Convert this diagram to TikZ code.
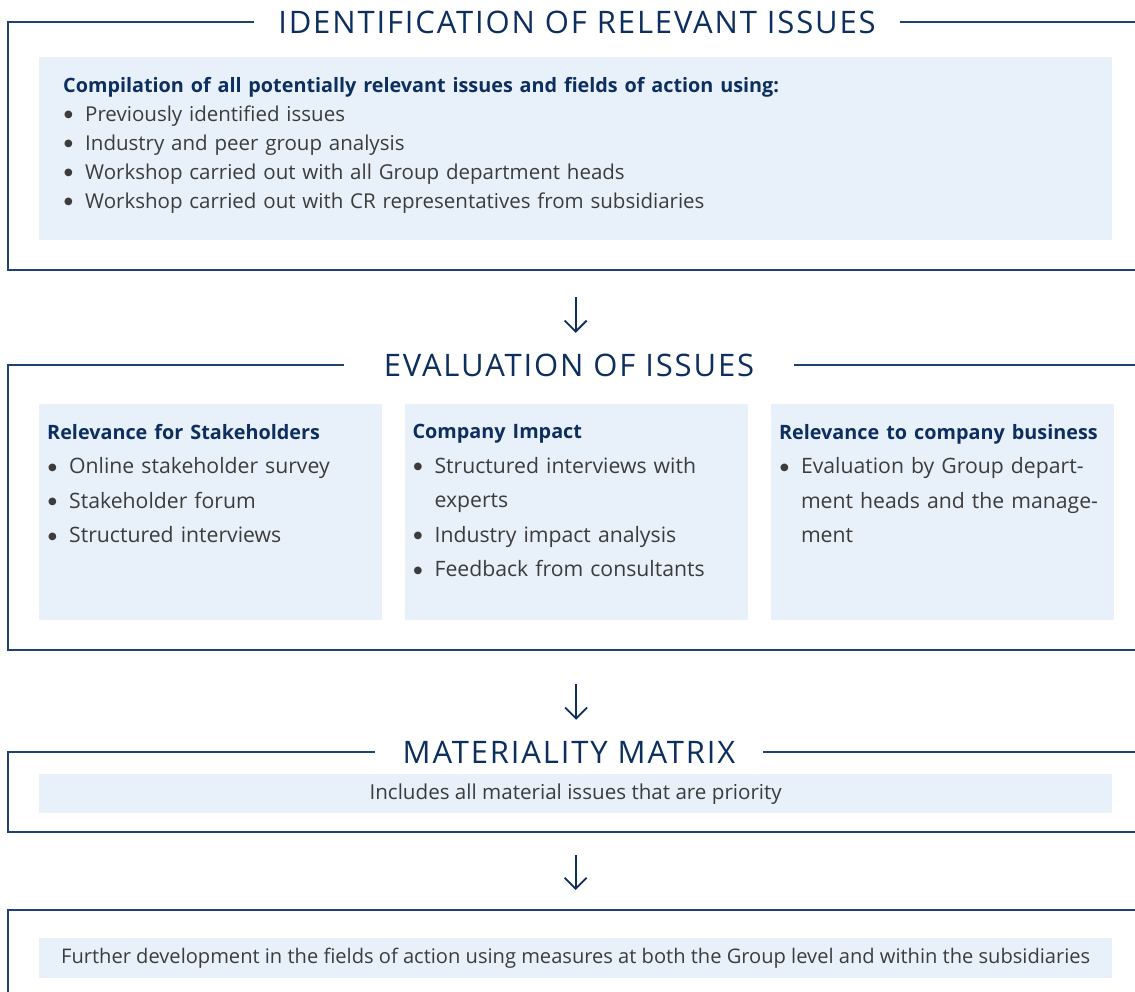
\documentclass[tikz,border=0pt]{standalone}
\usepackage{fontspec}
\setmainfont{Open Sans}
\newfontfamily\titlefont[LetterSpace=6]{Open Sans}
\newfontfamily\dotfont{DejaVu Sans}
\usetikzlibrary{positioning,arrows.meta}
\definecolor{navy}{HTML}{0D2F5F}
\definecolor{framecol}{HTML}{1F4273}
\definecolor{boxfill}{HTML}{E8F0FA}
\definecolor{bodytext}{HTML}{3C3C3C}
\newcommand{\bitem}[1]{\par\hangindent=22pt\hangafter=1\hspace*{1pt}\makebox[21pt][l]{\raisebox{3.5pt}{\dotfont\fontsize{10}{10}\selectfont ●}}#1\par}
\newcommand{\bhead}[1]{{\fontsize{19.8}{19.8}\bfseries\color{navy}#1}}
\begin{document}
\begin{tikzpicture}[x=1pt,y=-1pt,
  frameline/.style={draw=framecol,line width=1.6pt},
  panel/.style={fill=boxfill,inner sep=0pt,anchor=north west},
  sectitle/.style={fill=white,text=navy,inner xsep=26pt,inner ysep=0pt,minimum height=30pt,
    font=\titlefont\fontsize{31}{31}\selectfont},
  panetext/.style={anchor=north west,inner sep=0pt,align=left,text=bodytext},
  flowarrow/.style={draw=navy,line width=1.8pt,-{Straight Barb[length=11pt,width=22pt]}}]
\useasboundingbox (0,0) rectangle (1135,992);

% frames, open to the right
\draw[frameline] (1135,22) -- (8,22) -- (8,270) -- (1135,270);
\draw[frameline] (1135,365) -- (8,365) -- (8,650) -- (1135,650);
\draw[frameline] (1135,752) -- (8,752) -- (8,832) -- (1135,832);
\draw[frameline] (1135,910) -- (8,910) -- (8,1000);

\node[sectitle,inner xsep=24pt] (ttl1) at (577,22) {IDENTIFICATION OF RELEVANT ISSUES};
\node[sectitle,inner xsep=40pt] (ttl2) at (569,365) {EVALUATION OF ISSUES};
\node[sectitle,inner xsep=28pt] (ttl3) at (569,752) {MATERIALITY MATRIX};

% identification
\node[panel,minimum width=1073pt,minimum height=183pt] (box1) at (39,57) {};
\node[panetext,text width=1030pt,font=\fontsize{20.5}{29}\selectfont] (txt1)
  at ([xshift=24pt,yshift=-20pt]box1.north west) {%
  \bhead{Compilation of all potentially relevant issues and fields of action using:}
  \bitem{Previously identified issues}
  \bitem{Industry and peer group analysis}
  \bitem{Workshop carried out with all Group department heads}
  \bitem{Workshop carried out with CR representatives from subsidiaries}};

% evaluation
\node[panel,minimum width=343pt,minimum height=216pt] (eval1) at (39,404) {};
\node[panel,minimum width=343pt,minimum height=216pt,right=22pt of eval1] (eval2) {};
\node[panel,minimum width=343pt,minimum height=216pt,right=23pt of eval2] (eval3) {};
\node[panetext,text width=325pt,font=\fontsize{21.2}{34.5}\selectfont] (etxt1)
  at ([xshift=8pt,yshift=-20pt]eval1.north west) {%
  \bhead{Relevance for Stakeholders}
  \bitem{Online stakeholder survey}
  \bitem{Stakeholder forum}
  \bitem{Structured interviews}};
\node[panetext,text width=325pt,font=\fontsize{21.2}{34.5}\selectfont] (etxt2)
  at ([xshift=8pt,yshift=-20pt]eval2.north west) {%
  \bhead{Company Impact}
  \bitem{Structured interviews with\newline experts}
  \bitem{Industry impact analysis}
  \bitem{Feedback from consultants}};
\node[panetext,text width=325pt,font=\fontsize{21.2}{34.5}\selectfont] (etxt3)
  at ([xshift=8pt,yshift=-20pt]eval3.north west) {%
  \bhead{Relevance to company business}
  \bitem{Evaluation by Group depart-\newline ment heads and the manage-\newline ment}};

% matrix
\node[panel,minimum width=1073pt,minimum height=39pt] (box3) at (39,774) {};
\node[text=bodytext,font=\fontsize{20.6}{20.6}\selectfont] (txt3) at (box3.center)
  {Includes all material issues that are priority};

% further development
\node[panel,minimum width=1073pt,minimum height=40pt] (box4) at (39,938) {};
\node[text=bodytext,font=\fontsize{20.1}{20.1}\selectfont] (txt4) at (box4.center)
  {Further development in the fields of action using measures at both the Group level and within the subsidiaries};

\draw[flowarrow,shorten <=57pt,shorten >=17pt] (box1.south) -- (box1.south |- ttl2.north);
\draw[flowarrow,shorten <=64pt,shorten >=17pt] (eval2.south) -- (eval2.south |- ttl3.north);
\draw[flowarrow,shorten <=42pt,shorten >=48pt] (box3.south) -- (box4.north);
\end{tikzpicture}
\end{document}
